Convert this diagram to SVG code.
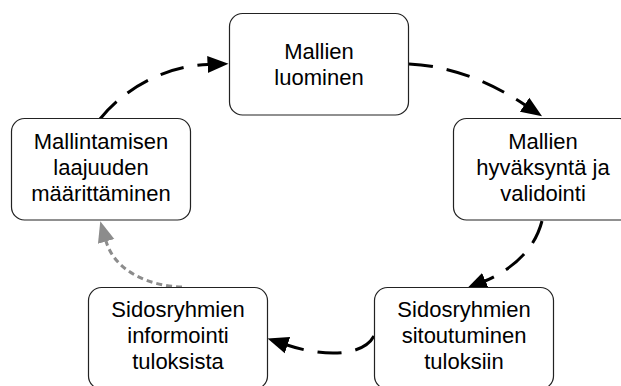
<svg xmlns="http://www.w3.org/2000/svg" width="621" height="386" viewBox="0 0 621 386">
  <style>
    .box { fill: #ffffff; stroke: #222222; stroke-width: 1.2; }
    .lbl { font-family: "Liberation Sans", Arial, sans-serif; font-size: 22px; fill: #000000; text-anchor: middle; }
    .flow { fill: none; stroke: #000000; stroke-width: 3; stroke-dasharray: 24 14; }
    .feedback { fill: none; stroke: #8c8c8c; stroke-width: 3; stroke-dasharray: 6 4; }
  </style>
  <defs>
    <marker id="arrow" markerUnits="userSpaceOnUse" markerWidth="22" markerHeight="18" refX="0.5" refY="9" orient="auto">
      <path d="M0,0.5 L21,9 L0,17.5 z" fill="#000000"/>
    </marker>
    <marker id="arrow-grey" markerUnits="userSpaceOnUse" markerWidth="22" markerHeight="18" refX="0.5" refY="9" orient="auto">
      <path d="M0,0.5 L21,9 L0,17.5 z" fill="#8c8c8c"/>
    </marker>
  </defs>

  <rect width="621" height="386" fill="#ffffff"/>

  <g id="connectors">
    <path class="flow" d="M100,119 C125,88 165,66 208,64.5" marker-end="url(#arrow)"/>
    <path class="flow" d="M409,64 C455,66 495,85 525,105" marker-end="url(#arrow)"/>
    <path class="flow" d="M542,221 C535,248 515,268 485,281" marker-end="url(#arrow)"/>
    <path class="flow" d="M374,336 C362,358 320,356 287,345" marker-end="url(#arrow)"/>
    <path class="feedback" d="M182,287 C150,286 115,272 106,241" marker-end="url(#arrow-grey)"/>
  </g>

  <g id="node-luominen">
    <rect class="box" x="229.5" y="13.5" width="179" height="101.5" rx="13"/>
    <text class="lbl" x="319" y="59">Mallien</text>
    <text class="lbl" x="319" y="85">luominen</text>
  </g>

  <g id="node-hyvaksynta">
    <rect class="box" x="453.5" y="118.5" width="179" height="101.5" rx="13"/>
    <text class="lbl" x="543" y="149">Mallien</text>
    <text class="lbl" x="543" y="175">hyväksyntä ja</text>
    <text class="lbl" x="543" y="201">validointi</text>
  </g>

  <g id="node-sitoutuminen">
    <rect class="box" x="374.5" y="287.5" width="179" height="101.5" rx="13"/>
    <text class="lbl" x="464" y="317">Sidosryhmien</text>
    <text class="lbl" x="464" y="343">sitoutuminen</text>
    <text class="lbl" x="464" y="369">tuloksiin</text>
  </g>

  <g id="node-informointi">
    <rect class="box" x="88.5" y="287.5" width="179" height="101.5" rx="13"/>
    <text class="lbl" x="178" y="317">Sidosryhmien</text>
    <text class="lbl" x="178" y="343">informointi</text>
    <text class="lbl" x="178" y="369">tuloksista</text>
  </g>

  <g id="node-laajuus">
    <rect class="box" x="11.5" y="118.5" width="179" height="101.5" rx="13"/>
    <text class="lbl" x="101" y="149">Mallintamisen</text>
    <text class="lbl" x="101" y="175">laajuuden</text>
    <text class="lbl" x="101" y="201">määrittäminen</text>
  </g>
</svg>
